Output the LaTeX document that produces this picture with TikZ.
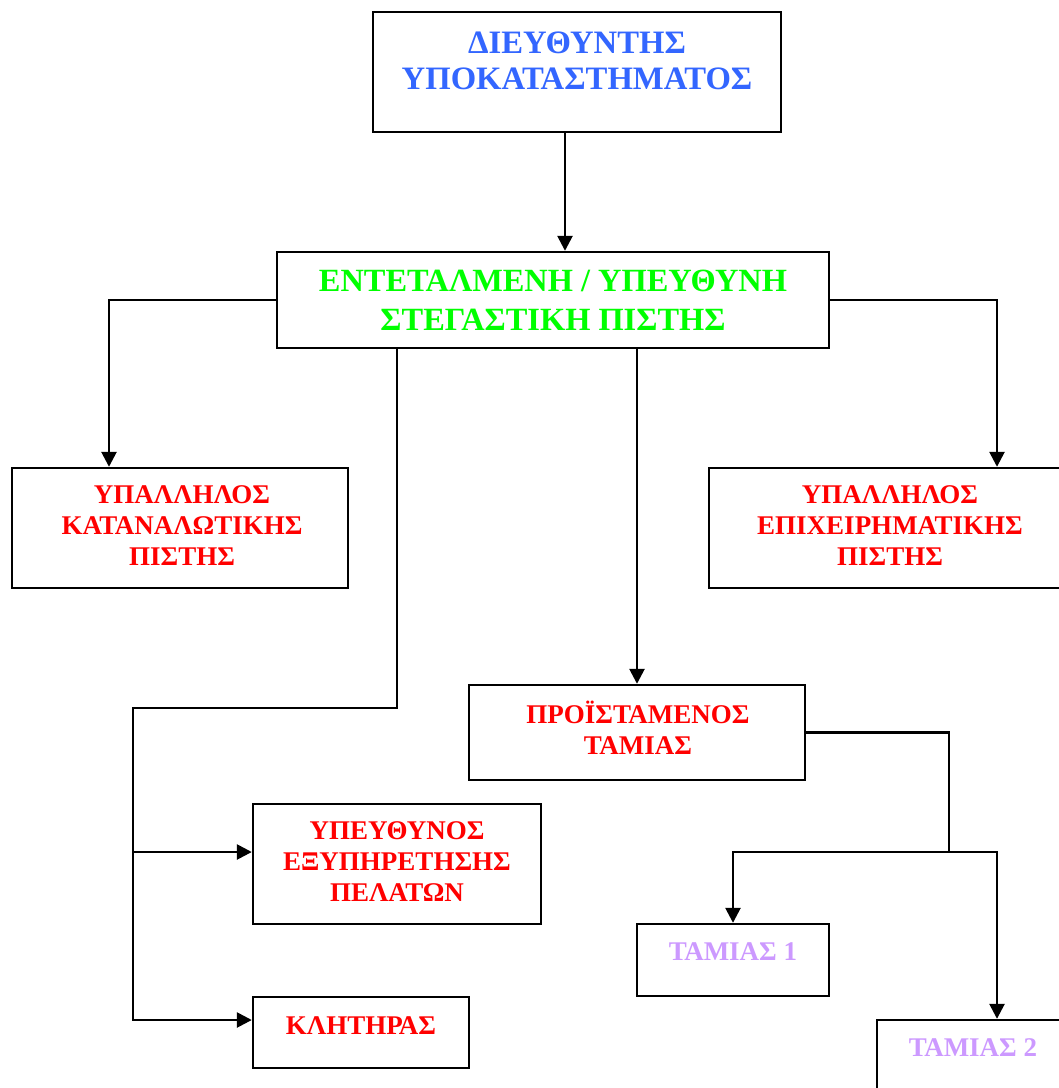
\documentclass[tikz,border=0pt]{standalone}
\usepackage{fontspec}
\setmainfont{Liberation Serif}
\usetikzlibrary{arrows.meta}
\definecolor{cblue}{RGB}{51,102,255}
\definecolor{cgreen}{RGB}{0,255,0}
\definecolor{cred}{RGB}{255,0,0}
\definecolor{cviolet}{RGB}{204,153,255}
\tikzset{
  box/.style={draw=black, line width=2.4pt, rectangle, inner sep=0pt},
  lbl/.style={align=center, inner sep=0pt, font=\bfseries},
  redt/.style={lbl, text=cred, font=\fontsize{27}{31}\selectfont\bfseries},
  conn/.style={line width=2.6pt, line join=miter},
  arr/.style={conn, -{Triangle[length=15pt,width=15pt]}}
}
\begin{document}
\begin{tikzpicture}[x=1pt,y=-1pt]
\useasboundingbox (0,0) rectangle (1059,1088);
% boxes
\node[box, minimum width=408, minimum height=120] (dir) at (577,72) {};
\node[box, minimum width=552, minimum height=96] (ent) at (553,300) {};
\node[box, minimum width=336, minimum height=120] (cons) at (180,528) {};
\node[box, minimum width=360, minimum height=120] (bus) at (889,528) {};
\node[box, minimum width=336, minimum height=95] (pro) at (637,732.5) {};
\node[box, minimum width=288, minimum height=120] (ype) at (397,864) {};
\node[box, minimum width=216, minimum height=71] (kl) at (361,1032.5) {};
\node[box, minimum width=192, minimum height=72] (t1) at (733,960) {};
\node[box, minimum width=240, minimum height=100] (t2) at (997,1070) {};
% texts
\node[lbl, text=cblue, font=\fontsize{32.7}{36}\selectfont\bfseries] (tdir) at (577,61) {ΔΙΕΥΘΥΝΤΗΣ\\ΥΠΟΚΑΤΑΣΤΗΜΑΤΟΣ};
\node[lbl, text=cgreen, font=\fontsize{32.4}{39}\selectfont\bfseries] (tent) at (553,300.5) {ΕΝΤΕΤΑΛΜΕΝΗ / ΥΠΕΥΘΥΝΗ\\ΣΤΕΓΑΣΤΙΚΗ ΠΙΣΤΗΣ};
\node[redt] (tcons) at (182,526) {ΥΠΑΛΛΗΛΟΣ\\ΚΑΤΑΝΑΛΩΤΙΚΗΣ\\ΠΙΣΤΗΣ};
\node[redt] (tbus) at (890,526) {ΥΠΑΛΛΗΛΟΣ\\ΕΠΙΧΕΙΡΗΜΑΤΙΚΗΣ\\ΠΙΣΤΗΣ};
\node[redt] (tpro) at (638,727.5) {ΠΡΟΪΣΤΑΜΕΝΟΣ\\ΤΑΜΙΑΣ};
\node[redt] (type) at (397,862) {ΥΠΕΥΘΥΝΟΣ\\ΕΞΥΠΗΡΕΤΗΣΗΣ\\ΠΕΛΑΤΩΝ};
\node[redt] (tkl) at (361,1026) {ΚΛΗΤΗΡΑΣ};
\node[lbl, text=cviolet, font=\fontsize{27}{31}\selectfont\bfseries] (tt1) at (733,952) {ΤΑΜΙΑΣ 1};
\node[lbl, text=cviolet, font=\fontsize{27}{31}\selectfont\bfseries] (tt2) at (973,1048) {ΤΑΜΙΑΣ 2};
% connectors
\coordinate (a0) at (565,132);
\draw[arr] (a0) -- (a0 |- ent.north);
\draw[arr] (ent.west) -| ([xshift=-71pt]cons.north);
\draw[arr] (ent.east) -| ([xshift=108pt]bus.north);
\draw[arr] (pro.north |- ent.south) -- (pro.north);
\coordinate (b1) at (397,708);
\coordinate (b2) at (133,708);
\coordinate (b3) at (133,1020);
\coordinate (j1) at (133,852);
\draw[arr] (b1 |- ent.south) -- (b1) -- (b2) -- (b3) -- (b3 -| kl.west);
\draw[arr] (j1) -- (j1 -| ype.west);
\coordinate (p1) at (949,852);
\coordinate (q1) at (733,852);
\coordinate (q2) at (997,852);
\draw[conn] (pro.east) -| (p1);
\draw[arr] (p1) -- (q1) -- (t1.north);
\draw[arr] (p1) -- (q2) -- (t2.north);
\end{tikzpicture}
\end{document}
